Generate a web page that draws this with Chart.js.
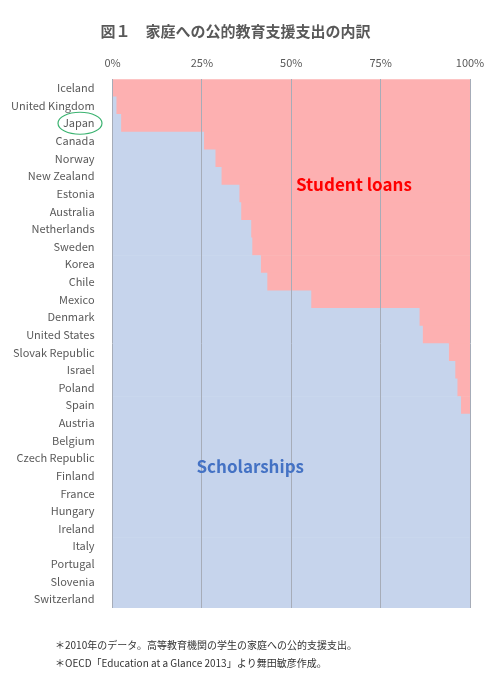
<!DOCTYPE html>
<html>
<head>
<meta charset="utf-8">
<script src="https://cdn.jsdelivr.net/npm/chart.js@4/dist/chart.umd.min.js"></script>
<style>
  body { margin: 0; background: #fff; }
  #wrap { width: 500px; height: 688px; position: relative; }
</style>
</head>
<body>
<div id="wrap"><canvas id="c"></canvas></div>
<script>
// 国名（上から）
const countries = ['Iceland', 'United Kingdom', 'Japan', 'Canada', 'Norway', 'New Zealand', 'Estonia',
    'Australia', 'Netherlands', 'Sweden', 'Korea', 'Chile', 'Mexico', 'Denmark', 'United States',
    'Slovak Republic', 'Israel', 'Poland', 'Spain', 'Austria', 'Belgium', 'Czech Republic', 'Finland',
    'France', 'Hungary', 'Ireland', 'Italy', 'Portugal', 'Slovenia', 'Switzerland'];

// 奨学金の割合（%）
const scholarships = [0, 1.0, 2.3, 25.5, 28.7, 30.4, 35.4, 35.9, 38.7, 39.0, 41.4, 43.2, 55.5, 85.8, 86.7,
    94.0, 95.8, 96.4, 97.4, 100, 100, 100, 100, 100, 100, 100, 100, 100, 100, 100];

// 学生ローンの割合（%）
const studentLoans = scholarships.map(v => +(100 - v).toFixed(1));

const xTicks = ['0%', '25%', '50%', '75%', '100%'];

const font = 'Meiryo, "Noto Sans CJK JP", "Noto Sans", sans-serif';

// 注記・ラベル・日本の囲み
const overlay = {
    id: 'overlay',
    afterDraw(chart) {
        const { ctx, scales: { x, y } } = chart;
        ctx.save();
        ctx.font = 'bold 17px ' + font;
        ctx.textAlign = 'center';
        ctx.textBaseline = 'middle';
        ctx.fillStyle = '#ff0000';
        ctx.fillText('Student loans', x.getPixelForValue(67.5), y.getPixelForValue(5.5));
        ctx.fillStyle = '#4472c4';
        ctx.fillText('Scholarships', x.getPixelForValue(38.5), y.getPixelForValue(21.5));

        // Japan の楕円
        const jy = y.getPixelForValue(2);
        ctx.strokeStyle = '#3cb371';
        ctx.lineWidth = 1.2;
        ctx.beginPath();
        ctx.ellipse(80, jy, 22, 11, 0, 0, Math.PI * 2);
        ctx.stroke();

        ctx.font = '10px ' + font;
        ctx.textAlign = 'left';
        ctx.fillStyle = '#333';
        ctx.fillText('＊2010年のデータ。高等教育機関の学生の家庭への公的支援支出。', 55, 645);
        ctx.fillText('＊OECD「Education at a Glance 2013」より舞田敏彦作成。', 55, 663);
        ctx.restore();
    }
};

new Chart(document.getElementById('c'), {
    type: 'bar',
    data: {
        labels: countries,
        datasets: [{
            label: 'Scholarships',
            data: scholarships,
            backgroundColor: '#c6d4ec',
            barPercentage: 1,
            categoryPercentage: 1
        }, {
            label: 'Student loans',
            data: studentLoans,
            backgroundColor: '#fdb0b1',
            barPercentage: 1,
            categoryPercentage: 1
        }]
    },
    options: {
        indexAxis: 'y',
        responsive: true,
        maintainAspectRatio: false,
        animation: false,
        layout: { padding: { left: 1, right: 30, bottom: 80, top: 0 } },
        plugins: {
            legend: { display: false },
            tooltip: { enabled: false },
            title: {
                display: true,
                text: '図１　家庭への公的教育支援支出の内訳',
                color: '#595959',
                font: { family: font, size: 15, weight: 'bold' },
                padding: { top: 22, bottom: 6 }
            }
        },
        scales: {
            x: {
                position: 'top',
                stacked: true,
                min: 0,
                max: 100,
                border: { display: false },
                grid: { color: '#a6acb8', drawTicks: false, z: 1 },
                ticks: {
                    stepSize: 25,
                    padding: 10,
                    color: '#595959',
                    font: { family: font, size: 11 },
                    callback: (v) => xTicks[v / 25]
                }
            },
            y: {
                stacked: true,
                border: { display: false },
                grid: { display: false },
                ticks: {
                    autoSkip: false,
                    padding: 10,
                    color: '#595959',
                    font: { family: font, size: 11 }
                }
            }
        }
    },
    plugins: [overlay]
});
</script>
</body>
</html>
